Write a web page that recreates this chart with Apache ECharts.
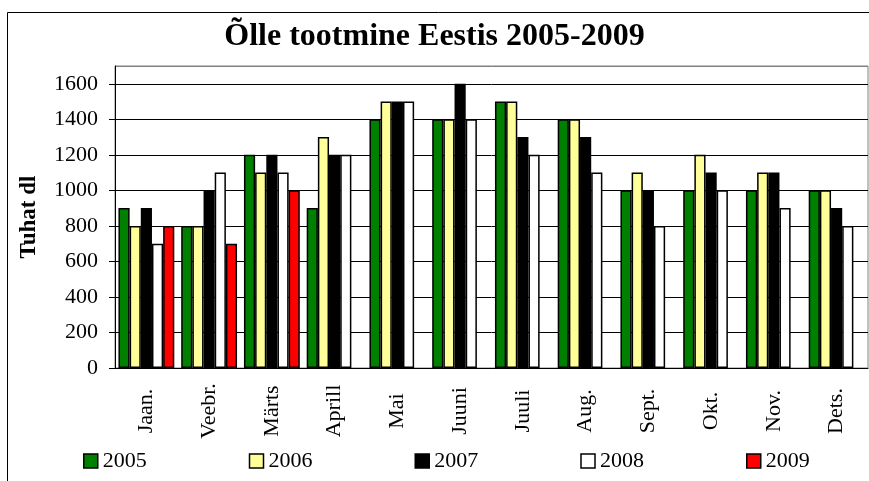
<!DOCTYPE html>
<html>
<head>
<meta charset="utf-8">
<script src="https://cdn.jsdelivr.net/npm/echarts@6/dist/echarts.min.js"></script>
<style>
    html, body { margin: 0; padding: 0; background: #fff; }
    #chart { width: 869px; height: 481px; }
</style>
</head>
<body>
<div id="chart"></div>
<script>
const months = ['Jaan.', 'Veebr.', 'Märts', 'Aprill', 'Mai', 'Juuni', 'Juuli', 'Aug.', 'Sept.', 'Okt.', 'Nov.', 'Dets.']
const years = ['2005', '2006', '2007', '2008', '2009']
const y2005 = [900, 800, 1200, 900, 1400, 1400, 1500, 1400, 1000, 1000, 1000, 1000]
const y2006 = [800, 800, 1100, 1300, 1500, 1400, 1500, 1400, 1100, 1200, 1100, 1000]
const y2007 = [900, 1000, 1200, 1200, 1500, 1600, 1300, 1300, 1000, 1100, 1100, 900]
const y2008 = [700, 1100, 1100, 1200, 1500, 1400, 1200, 1100, 800, 1000, 900, 800]
const y2009 = [800, 700, 1000, null, null, null, null, null, null, null, null, null]
const colors = ['#008000', '#ffff99', '#000000', '#ffffff', '#ff0000']

const serif = '"Liberation Serif", "DejaVu Serif", serif'
const chart = echarts.init(document.getElementById('chart'))

const seriesData = [y2005, y2006, y2007, y2008, y2009]

chart.setOption({
    animation: false,
    textStyle: { fontFamily: serif },
    title: {
        text: 'Õlle tootmine Eestis 2005-2009',
        left: 'center',
        top: 16,
        textStyle: { fontFamily: serif, fontSize: 32, fontWeight: 'bold', color: '#000' },
    },
    graphic: [{
        type: 'rect',
        left: 5,
        top: 10,
        shape: { width: 900, height: 500 },
        style: { fill: 'none', stroke: '#000', lineWidth: 1 },
        silent: true,
    }],
    legend: {
        data: years,
        left: 83,
        top: 450,
        padding: 0,
        itemWidth: 14,
        itemHeight: 14,
        itemGap: 102,
        icon: 'rect',
        itemStyle: { borderColor: '#000', borderWidth: 1.5 },
        textStyle: { fontFamily: serif, fontSize: 22, color: '#000' },
    },
    grid: {
        left: 115,
        right: 1,
        top: 66,
        bottom: 113,
        show: true,
        borderColor: '#808080',
        borderWidth: 1,
    },
    xAxis: {
        type: 'category',
        data: months,
        axisLine: { lineStyle: { color: '#000', width: 1 } },
        axisTick: { length: 5, lineStyle: { color: '#000' } },
        axisLabel: {
            rotate: 90,
            margin: 43,
            align: 'center',
            verticalAlign: 'middle',
            color: '#000',
            fontFamily: serif,
            fontSize: 22,
        },
    },
    yAxis: {
        type: 'value',
        min: 0,
        max: 1700,
        interval: 200,
        name: 'Tuhat dl',
        nameLocation: 'middle',
        nameRotate: 90,
        nameGap: 74,
        nameTextStyle: { fontFamily: serif, fontSize: 23, fontWeight: 'bold', color: '#000' },
        axisLine: { show: true, lineStyle: { color: '#000', width: 1 } },
        axisTick: { show: true, length: 6, lineStyle: { color: '#000' } },
        axisLabel: {
            margin: 17,
            color: '#000',
            fontFamily: serif,
            fontSize: 22,
            showMaxLabel: false,
            formatter: (v) => String(v),
        },
        splitLine: {
            lineStyle: {
                color: ['#000', '#000', '#000', '#000', '#000', '#000', '#000', '#000', '#000', '#808080'],
                width: 1,
            },
        },
    },
    series: years.map((name, i) => ({
        name: name,
        type: 'bar',
        data: seriesData[i],
        barGap: '0%',
        barCategoryGap: '11%',
        itemStyle: { color: colors[i], borderColor: '#000', borderWidth: 1.5 },
    })),
})
</script>
</body>
</html>
